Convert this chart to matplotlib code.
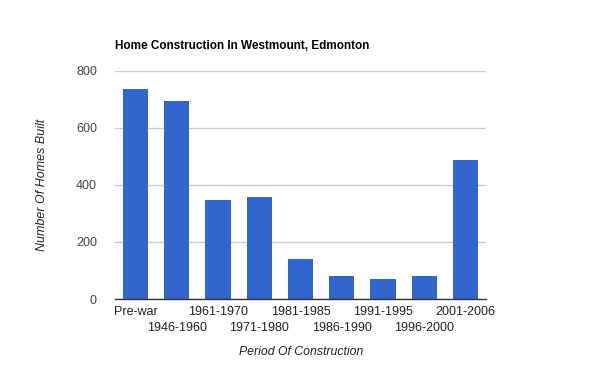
import matplotlib
matplotlib.use("Agg")
import matplotlib.pyplot as plt

categories = ["Pre-war", "1946-1960", "1961-1970", "1971-1980", "1981-1985",
              "1986-1990", "1991-1995", "1996-2000", "2001-2006"]
homes_built = [738, 695, 347, 358, 140, 81, 70, 81, 488]
y_ticks = [0, 200, 400, 600, 800]

plt.rcParams['font.family'] = ['Liberation Sans', 'DejaVu Sans']

W, H = 600, 371
fig = plt.figure(figsize=(W / 100, H / 100), dpi=100)
ax = fig.add_axes([115 / W, 1 - 299 / H, (486 - 115) / W, (299 - 71) / H])

x = list(range(len(categories)))
ax.bar(x, homes_built, width=0.61, color="#3366CC", zorder=3)
ax.set_xlim(-0.5, len(categories) - 0.5)
ax.set_ylim(0, 800)
ax.set_yticks(y_ticks)
ax.set_yticklabels([str(v) for v in y_ticks])
ax.grid(axis='y', color='#cccccc', linewidth=1, zorder=0)
ax.tick_params(axis='y', length=0, pad=13, labelsize=9, labelcolor='#444444')
ax.tick_params(axis='x', length=0, labelbottom=False)
for s in ['top', 'right', 'left']:
    ax.spines[s].set_visible(False)
ax.spines['bottom'].set_color('#333333')
ax.spines['bottom'].set_linewidth(1)
ax.spines['bottom'].set_zorder(4)

# staggered x labels
for i, lab in enumerate(categories):
    ypix = 312 if i % 2 == 0 else 328
    ax.text(i, (299 - ypix) / (299 - 71), lab, transform=ax.get_xaxis_transform(),
            ha='center', va='center', fontsize=9, color='#222222')

fig.text(115 / W, 1 - 46 / H, "Home Construction In Westmount, Edmonton",
         ha='left', va='center', fontsize=8.5, fontweight='bold', color='#000000')
fig.text(301 / W, 1 - 352 / H, "Period Of Construction", ha='center', va='center',
         fontsize=8.8, style='italic', color='#222222')
fig.text(42 / W, 1 - 185 / H, "Number Of Homes Built", ha='center', va='center',
         rotation=90, fontsize=9, style='italic', color='#222222')

fig.savefig("out.png", dpi=100)
